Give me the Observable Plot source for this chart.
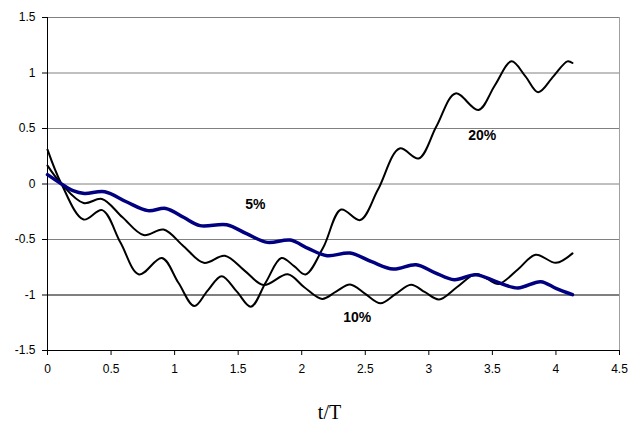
<!DOCTYPE html>
<html>
<head>
<meta charset="utf-8">
<script src="https://cdn.jsdelivr.net/npm/d3@7"></script>
<script src="https://cdn.jsdelivr.net/npm/@observablehq/plot@0.6"></script>
<style>
  html, body { margin: 0; padding: 0; background: #fff; }
  svg { display: block; }
</style>
</head>
<body>
<div id="chart"></div>
<script>
// Tick values
const xTicks = [0, 0.5, 1, 1.5, 2, 2.5, 3, 3.5, 4, 4.5];
const yTicks = [-1.5, -1, -0.5, 0, 0.5, 1, 1.5];

// Series 5% (blue)
const t5 = [0, 0.11, 0.2, 0.29, 0.45, 0.62, 0.79, 0.93, 1.07, 1.2, 1.41, 1.57, 1.73, 1.91, 2.05, 2.2, 2.38, 2.55, 2.72, 2.9, 3.05, 3.2, 3.37, 3.53, 3.7, 3.88, 4.0, 4.13];
const v5 = [0.084, 0.0, -0.06, -0.085, -0.07, -0.16, -0.24, -0.22, -0.3, -0.375, -0.367, -0.45, -0.526, -0.505, -0.58, -0.646, -0.622, -0.70, -0.766, -0.727, -0.80, -0.862, -0.817, -0.88, -0.937, -0.88, -0.94, -0.997];

// Series 10%
const t10 = [0, 0.11, 0.284, 0.428, 0.59, 0.756, 0.913, 1.07, 1.23, 1.395, 1.55, 1.70, 1.89, 2.02, 2.16, 2.27, 2.38, 2.5, 2.62, 2.74, 2.86, 2.97, 3.08, 3.22, 3.37, 3.46, 3.55, 3.70, 3.84, 4.0, 4.13];
const v10 = [0.165, 0.0, -0.171, -0.135, -0.30, -0.46, -0.41, -0.56, -0.71, -0.646, -0.78, -0.91, -0.813, -0.93, -1.035, -0.97, -0.905, -0.99, -1.075, -0.99, -0.907, -0.975, -1.04, -0.93, -0.81, -0.855, -0.90, -0.77, -0.637, -0.71, -0.625];

// Series 20%
const t20 = [0, 0.11, 0.284, 0.43, 0.575, 0.72, 0.9, 1.03, 1.155, 1.26, 1.37, 1.49, 1.6, 1.72, 1.84, 1.94, 2.03, 2.17, 2.31, 2.46, 2.6, 2.77, 2.92, 3.06, 3.21, 3.39, 3.52, 3.65, 3.76, 3.86, 3.98, 4.09, 4.13];
const v20 = [0.31, 0.0, -0.32, -0.235, -0.53, -0.815, -0.667, -0.89, -1.10, -0.96, -0.83, -0.97, -1.105, -0.88, -0.667, -0.74, -0.815, -0.57, -0.23, -0.325, -0.05, 0.32, 0.23, 0.52, 0.816, 0.667, 0.89, 1.105, 0.97, 0.827, 0.97, 1.105, 1.09];

// Annotations
const labelText = ["5%", "10%", "20%"];
const labelT = [1.635, 2.436, 3.42];
const labelV = [-0.186, -1.2, 0.435];

const toRows = (ts, vs) => ts.map((t, i) => ({t, v: vs[i]}));
const d5 = toRows(t5, v5);
const d10 = toRows(t10, v10);
const d20 = toRows(t20, v20);
const labels = labelText.map((s, i) => ({s, t: labelT[i], v: labelV[i]}));

const chart = Plot.plot({
  width: 629,
  height: 431,
  marginTop: 17,
  marginLeft: 47,
  marginRight: 10,
  marginBottom: 81,
  x: {domain: [0, 4.5]},
  y: {domain: [-1.5, 1.5]},
  style: {fontFamily: "'Liberation Sans', Arial, sans-serif", fontSize: "12px", color: "#000", background: "#fff"},
  marks: [
    Plot.ruleY(yTicks.filter(d => d > -1.5), {stroke: d => d === -1 ? "#000" : "#808080", strokeWidth: 1}),
    Plot.ruleX([4.5], {stroke: "#a0a0a0"}),
    Plot.ruleY([-1.5], {stroke: "#000"}),
    Plot.ruleX([0], {stroke: "#000"}),
    Plot.axisX({ticks: xTicks, tickSize: 5, tickPadding: 9, tickFormat: d => String(d), label: null, fontSize: 12}),
    Plot.axisY({ticks: yTicks, tickSize: 5, tickPadding: 7, tickFormat: d => String(d), label: null, fontSize: 12}),
    Plot.line(d20, {x: "t", y: "v", stroke: "#000", strokeWidth: 2, curve: "catmull-rom"}),
    Plot.line(d10, {x: "t", y: "v", stroke: "#000", strokeWidth: 2, curve: "catmull-rom"}),
    Plot.line(d5, {x: "t", y: "v", stroke: "#000080", strokeWidth: 3.5, curve: "catmull-rom"}),
    Plot.text(labels, {x: "t", y: "v", text: "s", fontWeight: "bold", fontSize: 14, fill: "#000"}),
    Plot.text(["t/T"], {frameAnchor: "bottom", dy: 68, dx: -4, fontFamily: "'Liberation Serif', 'Times New Roman', serif", fontSize: 20, fill: "#000"})
  ]
});
document.getElementById("chart").appendChild(chart);
</script>
</body>
</html>
